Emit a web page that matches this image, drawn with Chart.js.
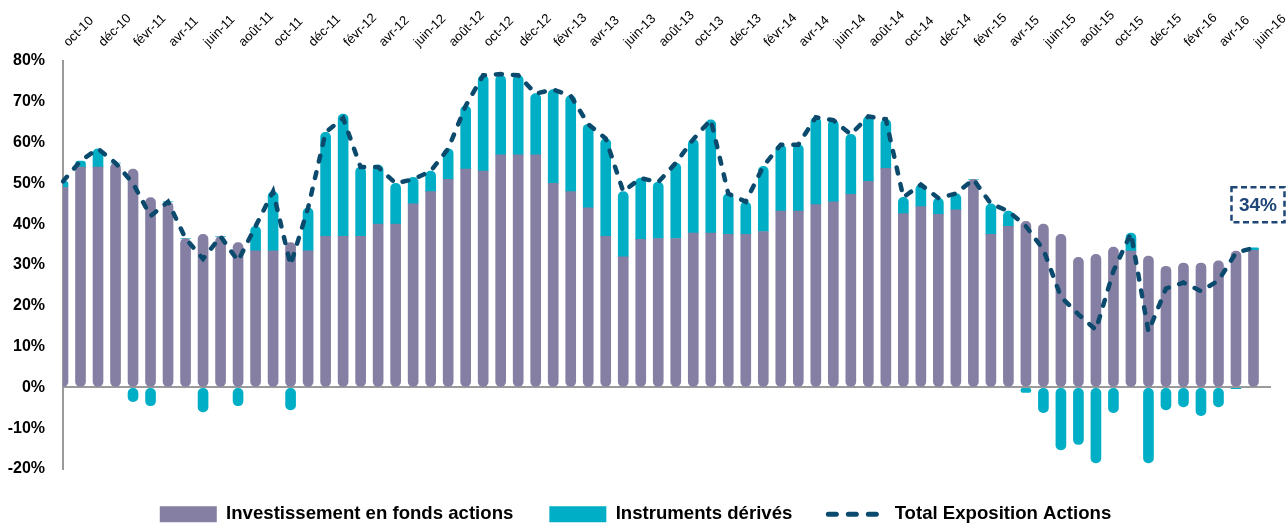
<!DOCTYPE html>
<html>
<head>
<meta charset="utf-8">
<script src="https://cdn.jsdelivr.net/npm/chart.js@4.4.1/dist/chart.umd.min.js"></script>
<style>
    html, body { margin: 0; padding: 0; background: #fff; }
</style>
</head>
<body>
<canvas id="graficoExposition" width="1288" height="524"></canvas>
<script>
// mois (le dernier créneau reste vide, comme dans l'original)
const mois = [
    "oct-10", "nov-10", "déc-10", "janv-11", "févr-11", "mars-11", "avr-11", "mai-11", "juin-11", "juil-11", "août-11", "sept-11",
    "oct-11", "nov-11", "déc-11", "janv-12", "févr-12", "mars-12", "avr-12", "mai-12", "juin-12", "juil-12", "août-12", "sept-12",
    "oct-12", "nov-12", "déc-12", "janv-13", "févr-13", "mars-13", "avr-13", "mai-13", "juin-13", "juil-13", "août-13", "sept-13",
    "oct-13", "nov-13", "déc-13", "janv-14", "févr-14", "mars-14", "avr-14", "mai-14", "juin-14", "juil-14", "août-14", "sept-14",
    "oct-14", "nov-14", "déc-14", "janv-15", "févr-15", "mars-15", "avr-15", "mai-15", "juin-15", "juil-15", "août-15", "sept-15",
    "oct-15", "nov-15", "déc-15", "janv-16", "févr-16", "mars-16", "avr-16", "mai-16", "juin-16", "juil-16"
];

const fondsActions = [
    49, 54, 54, 55, 53.5, 46.5, 45.5, 36.5, 37.5, 37, 35.5, 33.5,
    33.5, 35.5, 33.5, 37, 37, 37, 40, 40, 45, 48, 51, 53.5,
    53, 57, 57, 57, 50, 48, 44, 37, 32, 36.3, 36.5, 36.5,
    37.8, 37.8, 37.5, 37.5, 38.2, 43.2, 43.2, 44.8, 45.5, 47.3, 50.5, 53.7,
    42.6, 44.3, 42.4, 43.5, 51, 37.5, 39.5, 40.7, 40, 37.5, 31.9, 32.6,
    34.4, 33.4, 32.2, 29.7, 30.5, 30.5, 31, 33.4, 33.6
];

const derives = [
    1.5, 1.5, 4.5, 0, -3.5, -4.5, 0, 0, -6, 0, -4.5, 6,
    14.5, -5.5, 10.5, 25.5, 30, 17, 14.5, 10, 6.5, 5, 7.5, 15.5,
    23.5, 19.5, 19.5, 15, 23, 23.5, 20.5, 24, 16, 15, 13.8, 18.5,
    23, 27.8, 10, 8, 16, 16.3, 16.3, 21.4, 20, 14.7, 15.9, 12,
    4, 5.4, 4, 4, 0, 7.5, 3.7, -1.2, -6.2, -15.3, -14, -18.5,
    -6.2, 4.4, -18.5, -5.5, -4.8, -6.9, -4.8, -0.3, 0.6
];

const totalExposition = [
    50.5, 55.5, 58.5, 55, 50, 42, 45.5, 36.5, 31.5, 37, 31, 39.5,
    48, 30, 44, 62.5, 66, 54, 54, 50, 51, 53, 58.5, 69,
    76.5, 76.8, 76.5, 72, 73, 71.5, 64.5, 61, 48, 51.3, 50.3, 55,
    60.8, 65.6, 47.5, 45.5, 54.2, 59.5, 59.5, 66.2, 65.5, 62, 66.4, 65.7,
    46.6, 49.7, 46.4, 47.5, 51, 45, 43.2, 39.5, 33.8, 22.2, 17.9, 14.1,
    28.5, 37.8, 13.7, 24.2, 25.7, 23.6, 26.2, 33, 34.2
];

const graduationsY = { min: -20, max: 80, pas: 10 };

const VIOLET = "#857FA3";
const CYAN = "#00AEC6";
const MARINE = "#0B4A6D";
const R = 5;

const etiquetteFinale = {
    id: "etiquetteFinale",
    afterDatasetsDraw(chart) {
        const i = totalExposition.length - 1;
        const pt = chart.getDatasetMeta(2).data[i];
        if (!pt) return;
        const ctx = chart.ctx;
        const cx = pt.x + 4.5, cy = pt.y - 43, w = 53, h = 35;
        ctx.save();
        ctx.strokeStyle = "#1E4677";
        ctx.lineWidth = 2.5;
        ctx.setLineDash([6, 3.5]);
        ctx.strokeRect(cx - w / 2, cy - h / 2, w, h);
        ctx.setLineDash([]);
        ctx.fillStyle = "#1E4677";
        ctx.font = "bold 19px 'Liberation Sans', Arial, sans-serif";
        ctx.textAlign = "center";
        ctx.textBaseline = "middle";
        ctx.fillText(Math.round(totalExposition[i]) + "%", cx, cy + 1);
        ctx.restore();
    }
};

new Chart(document.getElementById("graficoExposition"), {
    type: "bar",
    data: {
        labels: mois,
        datasets: [{
            label: "Investissement en fonds actions",
            data: fondsActions,
            backgroundColor: VIOLET,
            barThickness: 10,
            borderSkipped: false,
            borderRadius: ctx => {
                const d = derives[ctx.dataIndex];
                const haut = d > 0 ? 0 : R;
                return { topLeft: haut, topRight: haut, bottomLeft: R, bottomRight: R };
            },
            clip: 0,
            order: 1
        }, {
            label: "Instruments dérivés",
            data: derives,
            backgroundColor: CYAN,
            barThickness: 10,
            borderSkipped: false,
            borderRadius: ctx => {
                const d = derives[ctx.dataIndex];
                const bas = d > 0 ? 0 : R;
                return { topLeft: R, topRight: R, bottomLeft: bas, bottomRight: bas };
            },
            clip: 0,
            order: 1
        }, {
            type: "line",
            label: "Total Exposition Actions",
            data: totalExposition,
            stack: "total",
            borderColor: MARINE,
            borderWidth: 4.5,
            borderDash: [6, 11],
            borderCapStyle: "round",
            pointRadius: 0,
            fill: false,
            tension: 0,
            order: 0
        }]
    },
    options: {
        responsive: false,
        animation: false,
        layout: { padding: { left: 0, right: 17, top: 0, bottom: -9.6 } },
        plugins: {
            tooltip: { enabled: false },
            legend: {
                position: "bottom",
                labels: {
                    usePointStyle: true,
                    pointStyleWidth: 57,
                    boxHeight: 16,
                    padding: 36,
                    color: "#000",
                    font: { family: "'Liberation Sans', Arial, sans-serif", size: 18.6, weight: "bold" },
                    generateLabels: chart => {
                        const items = Chart.defaults.plugins.legend.labels.generateLabels(chart);
                        items.sort((a, b) => a.datasetIndex - b.datasetIndex);
                        items.forEach(it => {
                            if (it.datasetIndex < 2) {
                                it.pointStyle = "rect";
                                it.fillStyle = it.datasetIndex === 0 ? VIOLET : CYAN;
                                it.lineWidth = 0;
                                it.strokeStyle = "rgba(0,0,0,0)";
                            } else {
                                it.pointStyle = "line";
                                it.lineWidth = 5;
                                it.lineDash = [8, 12];
                                it.lineCap = "round";
                                it.strokeStyle = MARINE;
                            }
                        });
                        return items;
                    }
                }
            }
        },
        scales: {
            x: {
                position: "top",
                stacked: true,
                offset: false,
                grid: { display: false, drawTicks: false },
                border: { display: false },
                ticks: {
                    autoSkip: false,
                    minRotation: 45,
                    maxRotation: 45,
                    padding: 11,
                    labelOffset: 14,
                    color: "#000",
                    font: { family: "'Liberation Sans', Arial, sans-serif", size: 13 },
                    callback: (v, i) => (i % 2 === 0 ? mois[i] : "")
                },
                afterFit: s => { s.height = 61; }
            },
            y: {
                stacked: true,
                min: graduationsY.min,
                max: graduationsY.max,
                ticks: {
                    stepSize: graduationsY.pas,
                    padding: 18,
                    color: "#000",
                    font: { family: "'Liberation Sans', Arial, sans-serif", size: 16, weight: "bold" },
                    callback: v => v + "%"
                },
                grid: {
                    drawTicks: false,
                    lineWidth: 2,
                    color: ctx => (ctx.tick && ctx.tick.value === 0 ? "#9A9A9A" : "rgba(0,0,0,0)")
                },
                border: { color: "#9A9A9A", width: 2 },
                afterFit: s => { s.width = 63; }
            }
        }
    },
    plugins: [etiquetteFinale]
});
</script>
</body>
</html>
